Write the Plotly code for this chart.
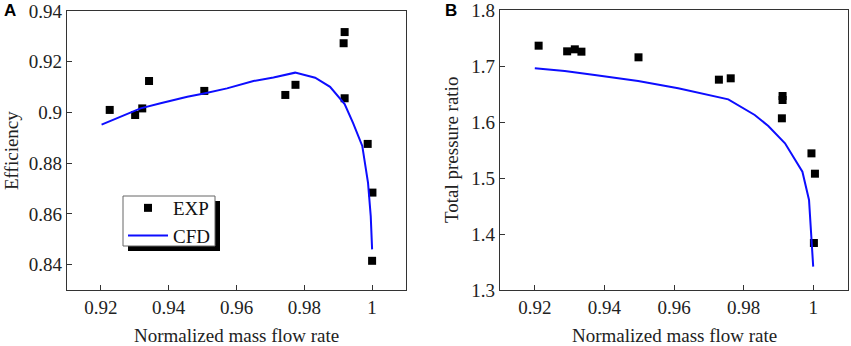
import plotly.graph_objects as go

# ---- Data ----
exp_a_x = [0.9226, 0.9301, 0.9322, 0.9342, 0.9505, 0.9744, 0.9774, 0.9919, 0.9916, 0.9919, 0.9987, 1.0001, 1.0000]
exp_a_y = [0.9010, 0.8990, 0.9016, 0.9124, 0.9085, 0.9069, 0.9109, 0.9317, 0.9273, 0.9056, 0.8876, 0.8684, 0.8415]
cfd_a_x = [0.9202, 0.9317, 0.9376, 0.9455, 0.9504, 0.9572, 0.9650, 0.9709, 0.9773, 0.9832, 0.9876, 0.9919, 0.9944, 0.9971, 0.9988, 0.9996, 1.0000]
cfd_a_y = [0.8952, 0.9016, 0.9036, 0.9062, 0.9075, 0.9095, 0.9124, 0.9138, 0.9157, 0.9137, 0.9101, 0.9033, 0.8958, 0.8868, 0.8722, 0.8591, 0.8460]

exp_b_x = [0.9211, 0.9293, 0.9315, 0.9334, 0.9498, 0.9729, 0.9763, 0.9912, 0.9912, 0.9910, 0.9995, 1.0005, 1.0002]
exp_b_y = [1.7363, 1.7262, 1.7298, 1.7256, 1.7155, 1.6756, 1.6780, 1.6464, 1.6393, 1.6066, 1.5440, 1.5077, 1.3839]
cfd_b_x = [0.9200, 0.9286, 0.9372, 0.9497, 0.9612, 0.9756, 0.9832, 0.9871, 0.9919, 0.9969, 0.9988, 0.9995, 1.0000]
cfd_b_y = [1.6958, 1.6911, 1.6839, 1.6732, 1.6601, 1.6405, 1.6125, 1.5929, 1.5619, 1.5113, 1.4607, 1.4012, 1.3417]

x_ticks = [0.92, 0.94, 0.96, 0.98, 1.0]
x_tick_text = ["0.92", "0.94", "0.96", "0.98", "1"]
ya_ticks = [0.84, 0.86, 0.88, 0.90, 0.92, 0.94]
ya_tick_text = ["0.84", "0.86", "0.88", "0.9", "0.92", "0.94"]
yb_ticks = [1.3, 1.4, 1.5, 1.6, 1.7, 1.8]
yb_tick_text = ["1.3", "1.4", "1.5", "1.6", "1.7", "1.8"]

W, H = 851, 346
SERIF = "Liberation Serif, Times New Roman, serif"
FS = 19
BLUE = "#0d0dff"

fig = go.Figure()
fig.add_trace(go.Scatter(x=exp_a_x, y=exp_a_y, mode="markers", name="EXP",
                         marker=dict(symbol="square", size=8, color="black"),
                         xaxis="x", yaxis="y"))
fig.add_trace(go.Scatter(x=cfd_a_x, y=cfd_a_y, mode="lines", name="CFD",
                         line=dict(color=BLUE, width=2), xaxis="x", yaxis="y"))
fig.add_trace(go.Scatter(x=exp_b_x, y=exp_b_y, mode="markers", name="EXP",
                         marker=dict(symbol="square", size=8, color="black"),
                         xaxis="x2", yaxis="y2", showlegend=False))
fig.add_trace(go.Scatter(x=cfd_b_x, y=cfd_b_y, mode="lines", name="CFD",
                         line=dict(color=BLUE, width=2), xaxis="x2", yaxis="y2",
                         showlegend=False))

def px(x):
    return x / W

def py(y):
    return 1 - y / H

axis_common = dict(showline=True, mirror=True, linecolor="#333333", linewidth=1.3,
                   ticks="inside", ticklen=5, tickcolor="#333333", tickwidth=1,
                   showgrid=False, zeroline=False, automargin=False,
                   ticklabeloverflow="allow",
                   tickfont=dict(family=SERIF, size=FS, color="#222222"))

fig.update_layout(
    width=W, height=H,
    margin=dict(l=0, r=0, t=0, b=0),
    paper_bgcolor="white", plot_bgcolor="white",
    xaxis=dict(domain=[px(67), px(406)], range=[0.91, 1.01], tickvals=x_ticks,
               ticktext=x_tick_text, anchor="y", **axis_common),
    yaxis=dict(domain=[py(290), py(11)], range=[0.82999, 0.94001], tickvals=ya_ticks,
               ticktext=ya_tick_text, anchor="x", **axis_common),
    xaxis2=dict(domain=[px(500), px(848)], range=[0.91, 1.01], tickvals=x_ticks,
                ticktext=x_tick_text, anchor="y2", **axis_common),
    yaxis2=dict(domain=[py(290), py(10)], range=[1.29999, 1.80001], tickvals=yb_ticks,
                ticktext=yb_tick_text, anchor="x2", **axis_common),
    showlegend=True,
    legend=dict(x=px(123), y=py(189), xanchor="left", yanchor="top",
                bgcolor="rgba(0,0,0,0)", borderwidth=0,
                font=dict(family=SERIF, size=FS, color="#111111"),
                itemwidth=40, tracegroupgap=0),
    font=dict(family=SERIF, size=FS, color="#222222"),
)

# legend frame with drop shadow
fig.add_shape(type="rect", xref="paper", yref="paper",
              x0=px(128), x1=px(220), y0=py(251), y1=py(201),
              fillcolor="black", line=dict(width=0), layer="above")
fig.add_shape(type="rect", xref="paper", yref="paper",
              x0=px(123), x1=px(215), y0=py(246), y1=py(196),
              fillcolor="white", line=dict(color="#666666", width=1), layer="above")

ann = [
    dict(text="Normalized mass flow rate", x=px(236), y=py(335), xref="paper", yref="paper",
         showarrow=False, font=dict(family=SERIF, size=FS, color="#222222"),
         xanchor="center", yanchor="middle"),
    dict(text="Normalized mass flow rate", x=px(674), y=py(335), xref="paper", yref="paper",
         showarrow=False, font=dict(family=SERIF, size=FS, color="#222222"),
         xanchor="center", yanchor="middle"),
    dict(text="Efficiency", x=px(11), y=py(151), xref="paper", yref="paper", textangle=-90,
         showarrow=False, font=dict(family=SERIF, size=FS, color="#222222"),
         xanchor="center", yanchor="middle"),
    dict(text="Total pressure ratio", x=px(452), y=py(150), xref="paper", yref="paper",
         textangle=-90, showarrow=False, font=dict(family=SERIF, size=FS, color="#222222"),
         xanchor="center", yanchor="middle"),
    dict(text="<b>A</b>", x=px(10), y=py(11), xref="paper", yref="paper",
         showarrow=False, font=dict(family="Liberation Sans, Arial, sans-serif", size=17,
                                    color="black"),
         xanchor="center", yanchor="middle"),
    dict(text="<b>B</b>", x=px(451), y=py(11), xref="paper", yref="paper",
         showarrow=False, font=dict(family="Liberation Sans, Arial, sans-serif", size=17,
                                    color="black"),
         xanchor="center", yanchor="middle"),
]
fig.update_layout(annotations=ann)

fig.write_html("out.html", config={"displayModeBar": False},
               post_script="document.body.style.margin='0';document.body.style.overflow='hidden';")
